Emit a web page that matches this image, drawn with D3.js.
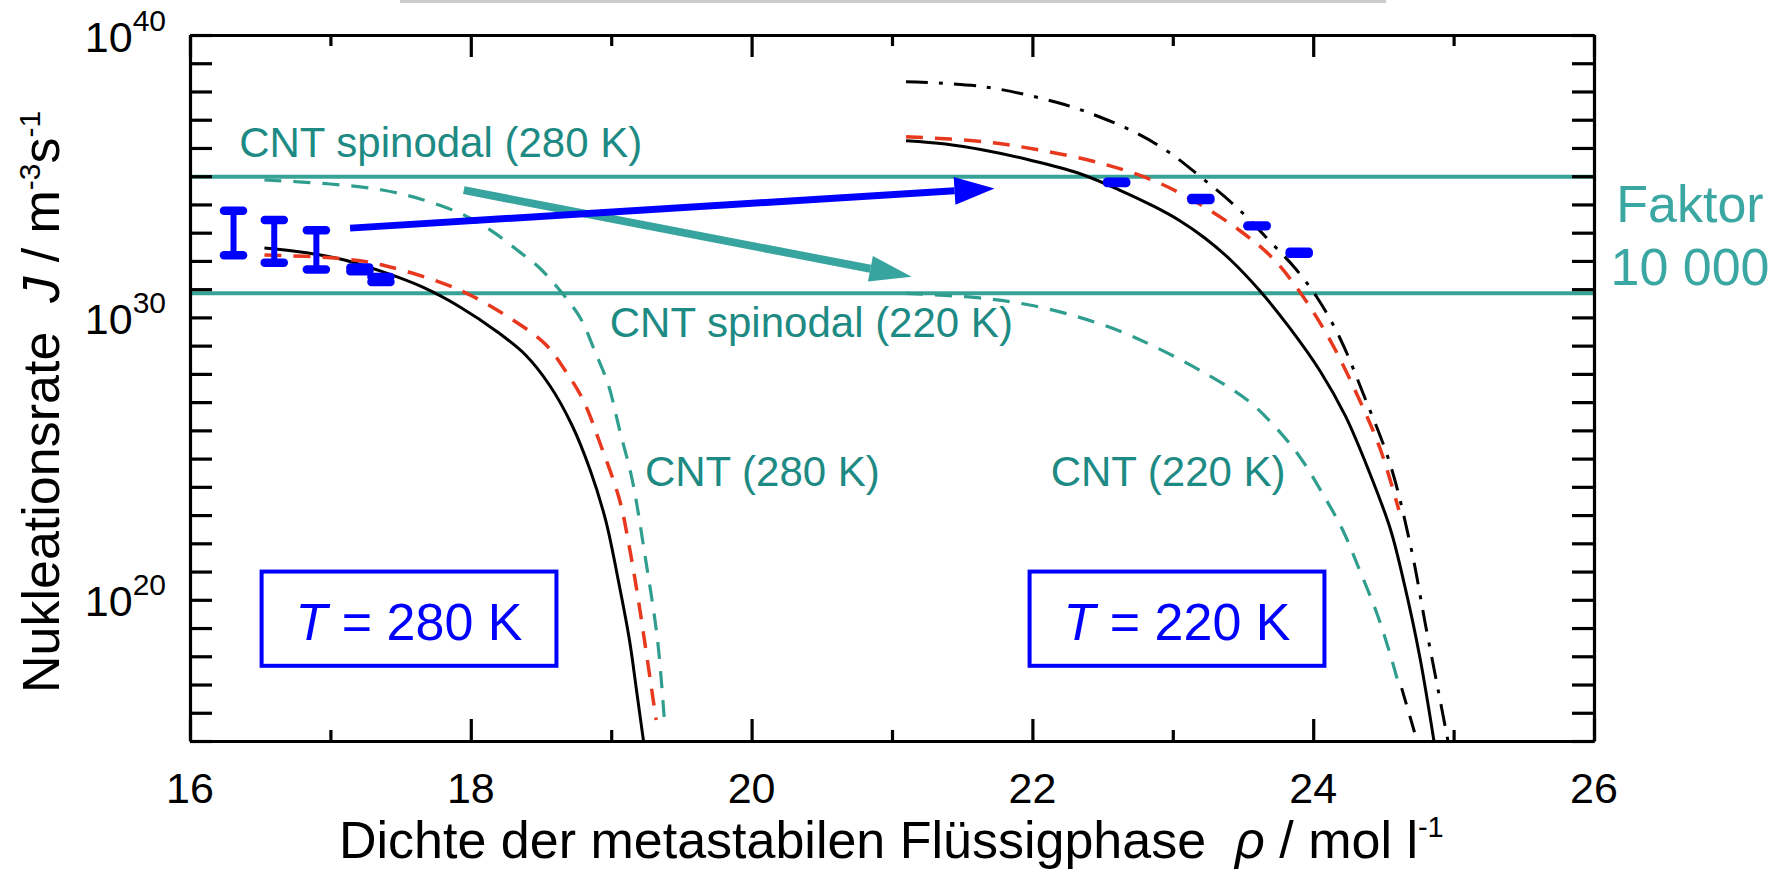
<!DOCTYPE html>
<html>
<head>
<meta charset="utf-8">
<script src="https://cdn.jsdelivr.net/npm/d3@7"></script>
<style>
  body { margin: 0; background: #fff; }
  svg { display: block; font-family: "Liberation Sans", Arial, sans-serif; }
</style>
</head>
<body>
<svg id="chart" width="1779" height="872"></svg>
<script>
// density rho (mol/l) vs nucleation rate J (m^-3 s^-1)

const xTicksMajor = [16, 18, 20, 22, 24, 26];
const xTicksMinor = [17, 19, 21, 23, 25];
const yTickLabels = [1e20, 1e30, 1e40];

// CNT spinodal levels (horizontal lines)
const spinodal280 = 9.5e34;
const spinodal220 = 7.1e30;

// T = 280 K curves
const solid280 = [[16.53, 2.87e32], [16.83, 1.95e32], [17.10, 1.08e32], [17.37, 4.15e31],
  [17.65, 1.22e31], [17.92, 2.39e30], [18.19, 3.04e29], [18.39, 4.67e28], [18.56, 4.04e27],
  [18.72, 1.55e26], [18.85, 3.94e24], [18.96, 6.70e22], [19.05, 5.02e20], [19.13, 3.77e18],
  [19.18, 6.4e16], [19.23, 1.0e15]];
const redDash280 = [[16.53, 1.62e32], [17.05, 1.24e32], [17.37, 7.18e31], [17.92, 9.33e30],
  [18.30, 8.09e29], [18.53, 1.14e29], [18.67, 1.37e28], [18.80, 1.19e27], [18.92, 3.56e25],
  [19.06, 3.42e23], [19.12, 1.31e22], [19.19, 1.26e20], [19.32, 5.55e15]];
const cnt280 = [[16.53, 7.33e34], [17.00, 5.30e34], [17.37, 3.24e34], [17.64, 1.56e34],
  [17.92, 4.98e33], [18.14, 1.24e33], [18.33, 2.44e32], [18.49, 5.61e31], [18.65, 7.31e30],
  [18.78, 9.53e29], [18.88, 7.01e28], [18.98, 4.04e27], [19.06, 1.03e26], [19.15, 1.75e24],
  [19.24, 3.86e21], [19.33, 3.77e18], [19.38, 4.34e15]];

// T = 220 K curves
const solid220 = [[21.10, 1.81e36], [21.38, 1.38e36], [21.65, 8.47e35], [21.98, 3.75e35],
  [22.33, 1.27e35], [22.62, 3.24e34], [22.87, 8.32e33], [23.05, 2.65e33], [23.23, 6.38e32],
  [23.41, 1.10e32], [23.62, 8.75e30], [23.83, 4.43e29], [24.05, 1.24e28], [24.23, 3.17e26],
  [24.40, 3.30e24], [24.55, 3.16e22], [24.65, 3.43e20], [24.76, 9.06e17], [24.86, 1.0e15]];
const redDash220 = [[21.10, 2.51e36], [21.65, 1.67e36], [22.05, 8.47e35], [22.48, 2.93e35],
  [22.87, 6.76e34], [23.19, 1.04e34], [23.50, 9.75e32], [23.71, 1.27e32], [23.90, 8.61e30],
  [24.12, 1.58e29], [24.33, 1.19e27], [24.48, 2.02e25], [24.61, 1.51e23]];
const dashDot220 = [[21.10, 2.22e38], [21.65, 1.48e38], [22.19, 3.91e37], [22.48, 1.25e37],
  [22.74, 3.39e36], [22.97, 7.19e35], [23.19, 1.02e35], [23.46, 7.48e33], [23.71, 3.97e32],
  [23.87, 5.61e31], [24.03, 4.86e30], [24.19, 1.87e29], [24.36, 1.79e27], [24.55, 5.93e24],
  [24.70, 5.80e21], [24.80, 1.28e19], [24.89, 6.4e16], [24.96, 1.0e15]];
const cnt220 = [[21.10, 7.13e30], [21.65, 4.74e30], [21.98, 2.75e30], [22.32, 1.06e30],
  [22.62, 3.30e29], [22.87, 9.18e28], [23.19, 1.37e28], [23.53, 1.19e27], [23.73, 1.32e26],
  [23.91, 1.05e25], [24.06, 6.56e23], [24.21, 2.97e22], [24.33, 1.14e21], [24.45, 3.70e19],
  [24.55, 1.11e18], [24.60, 1.45e17]];
const tail220 = [[24.63, 7.5e16], [24.74, 1.0e15]];

// simulation results with error bars
const bars280 = [
  { rho: 16.31, lo: 1.6e32, hi: 6.0e33 },
  { rho: 16.60, lo: 8.7e31, hi: 2.8e33 },
  { rho: 16.90, lo: 5.0e31, hi: 1.23e33 },
  { rho: 17.21, lo: 4.3e31, hi: 5.9e31 },
  { rho: 17.36, lo: 1.8e31, hi: 2.7e31 }
];
const bars220 = [
  { rho: 22.60, lo: 5.8e34, hi: 6.3e34 },
  { rho: 23.20, lo: 1.45e34, hi: 1.7e34 },
  { rho: 23.60, lo: 1.7e33, hi: 1.8e33 },
  { rho: 23.90, lo: 1.8e32, hi: 2.1e32 }
];

// arrows [from, to] in data units
const arrowBlue = [[17.14, 1.45e33], [21.73, 3.7e34]];
const arrowTeal = [[17.95, 3.2e34], [21.14, 2.75e31]];

const notes = [
  { text: "CNT spinodal (280 K)", rho: 16.35, J: 4.8e35 },
  { text: "CNT spinodal (220 K)", rho: 18.99, J: 2.0e29 },
  { text: "CNT (280 K)", rho: 19.24, J: 1.07e24 },
  { text: "CNT (220 K)", rho: 22.13, J: 1.07e24 }
];
const boxes = [
  { label: "280 K", rho0: 16.51, rho1: 18.61 },
  { label: "220 K", rho0: 21.98, rho1: 24.08 }
];
const boxTop = 1.0e21, boxBottom = 4.6e17, boxBaseline = 3.8e18;

const blue = "#0000ff", red = "#e8391f", tealLine = "#37a396", tealCurve = "#2f9e8f",
      tealText = "#1d8a83", tealLight = "#3ba7a2";

const M = { left: 190, right: 1594, top: 35, bottom: 741 };
const svg = d3.select("#chart");

const x = d3.scaleLinear().domain([16, 26]).range([M.left, M.right]);
const y = d3.scaleLog().domain([1e15, 1e40]).range([M.bottom, M.top]);

// gray strip at top of the slide
svg.append("rect").attr("x", 400).attr("y", 0).attr("width", 986).attr("height", 3)
  .attr("fill", "#cccccc");

const plot = svg.append("g");

// spinodal lines
plot.selectAll("line.spin")
  .data([spinodal280, spinodal220])
  .join("line")
    .attr("x1", x(16)).attr("x2", x(26))
    .attr("y1", d => y(d)).attr("y2", d => y(d))
    .attr("stroke", tealLine).attr("stroke-width", 4);

const line = d3.line()
  .x(d => x(d[0]))
  .y(d => y(d[1]))
  .curve(d3.curveCatmullRom.alpha(0.5));

const series = [
  { data: cnt280, color: tealCurve, dash: "17,12", w: 3.2 },
  { data: cnt220, color: tealCurve, dash: "17,12", w: 3.2 },
  { data: tail220, color: "#000", dash: "17,12", w: 3 },
  { data: solid280, color: "#000", dash: null, w: 3 },
  { data: solid220, color: "#000", dash: null, w: 3 },
  { data: dashDot220, color: "#000", dash: "22,11,4,11", w: 3 },
  { data: redDash280, color: red, dash: "17,12", w: 3.5 },
  { data: redDash220, color: red, dash: "17,12", w: 3.5 }
];

plot.selectAll("path.curve")
  .data(series)
  .join("path")
    .attr("class", "curve")
    .attr("d", d => line(d.data))
    .attr("fill", "none")
    .attr("stroke", d => d.color)
    .attr("stroke-width", d => d.w)
    .attr("stroke-dasharray", d => d.dash);

// error bars
function drawBars(data) {
  const g = plot.append("g").attr("stroke", blue).attr("stroke-linecap", "round");
  g.selectAll("line.stem").data(data).join("line")
    .attr("x1", d => x(d.rho)).attr("x2", d => x(d.rho))
    .attr("y1", d => y(d.hi)).attr("y2", d => y(d.lo))
    .attr("stroke-width", 6);
  const caps = data.flatMap(d => [{ rho: d.rho, J: d.hi }, { rho: d.rho, J: d.lo }]);
  g.selectAll("line.cap").data(caps).join("line")
    .attr("x1", d => x(d.rho) - 9.5).attr("x2", d => x(d.rho) + 9.5)
    .attr("y1", d => y(d.J)).attr("y2", d => y(d.J))
    .attr("stroke-width", 8.5);
}
drawBars(bars280);
drawBars(bars220);

// arrows
function drawArrow(a, color, width, headLen, headHalf) {
  const p0 = [x(a[0][0]), y(a[0][1])];
  const p1 = [x(a[1][0]), y(a[1][1])];
  const dx = p1[0] - p0[0], dy = p1[1] - p0[1];
  const len = Math.hypot(dx, dy);
  const ux = dx / len, uy = dy / len;
  const bx = p1[0] - ux * headLen, by = p1[1] - uy * headLen;
  plot.append("line")
    .attr("x1", p0[0]).attr("y1", p0[1]).attr("x2", bx).attr("y2", by)
    .attr("stroke", color).attr("stroke-width", width);
  plot.append("path")
    .attr("d", `M${p1[0]},${p1[1]}L${bx - uy * headHalf},${by + ux * headHalf}L${bx + uy * headHalf},${by - ux * headHalf}Z`)
    .attr("fill", color);
}
drawArrow(arrowTeal, "#38a4a0", 8, 42, 13);
drawArrow(arrowBlue, blue, 7, 40, 14);

// annotations
plot.selectAll("text.note")
  .data(notes)
  .join("text")
    .attr("x", d => x(d.rho)).attr("y", d => y(d.J))
    .attr("font-size", 42).attr("fill", tealText)
    .text(d => d.text);

boxes.forEach(b => {
  plot.append("rect")
    .attr("x", x(b.rho0)).attr("y", y(boxTop))
    .attr("width", x(b.rho1) - x(b.rho0)).attr("height", y(boxBottom) - y(boxTop))
    .attr("fill", "none").attr("stroke", blue).attr("stroke-width", 4);
  const t = plot.append("text")
    .attr("x", (x(b.rho0) + x(b.rho1)) / 2).attr("y", y(boxBaseline))
    .attr("text-anchor", "middle").attr("font-size", 52).attr("fill", blue);
  t.append("tspan").attr("font-style", "italic").text("T");
  t.append("tspan").text(" = " + b.label);
});

// Faktor label right of the plot
svg.append("text").attr("x", 1690).attr("y", 222).attr("text-anchor", "middle")
  .attr("font-size", 52).attr("fill", tealLight).text("Faktor");
svg.append("text").attr("x", 1690).attr("y", 285).attr("text-anchor", "middle")
  .attr("font-size", 52).attr("fill", tealLight).text("10 000");

// axes: ticks point inwards on all four sides
const decades = d3.range(15, 41).map(e => Math.pow(10, e));
function styleAxis(g) {
  g.selectAll(".domain").attr("stroke-width", 3.2);
  g.selectAll(".tick line").attr("stroke-width", 3.2);
  g.selectAll(".tick text").remove();
}
svg.append("g").attr("transform", `translate(0,${M.bottom})`)
  .call(d3.axisBottom(x).tickValues(xTicksMajor).tickSize(-22).tickSizeOuter(0))
  .call(styleAxis);
svg.append("g").attr("transform", `translate(0,${M.bottom})`)
  .call(d3.axisBottom(x).tickValues(xTicksMinor).tickSize(-11).tickSizeOuter(0))
  .call(styleAxis);
svg.append("g").attr("transform", `translate(0,${M.top})`)
  .call(d3.axisTop(x).tickValues(xTicksMajor).tickSize(-22).tickSizeOuter(0))
  .call(styleAxis);
svg.append("g").attr("transform", `translate(0,${M.top})`)
  .call(d3.axisTop(x).tickValues(xTicksMinor).tickSize(-11).tickSizeOuter(0))
  .call(styleAxis);
svg.append("g").attr("transform", `translate(${M.left},0)`)
  .call(d3.axisLeft(y).tickValues(decades).tickSize(-22).tickSizeOuter(0))
  .call(styleAxis);
svg.append("g").attr("transform", `translate(${M.right},0)`)
  .call(d3.axisRight(y).tickValues(decades).tickSize(-22).tickSizeOuter(0))
  .call(styleAxis);

// x tick labels
svg.selectAll("text.xlab")
  .data(xTicksMajor)
  .join("text")
    .attr("x", d => x(d)).attr("y", 803)
    .attr("text-anchor", "middle").attr("font-size", 43)
    .text(d => d);

// y tick labels as 10^n
yTickLabels.forEach(v => {
  const t = svg.append("text")
    .attr("x", 166).attr("y", y(v) + 16.5)
    .attr("text-anchor", "end").attr("font-size", 43);
  t.append("tspan").text("10");
  t.append("tspan").attr("font-size", 30).attr("dy", -21).text(Math.round(Math.log10(v)));
});

// axis titles
const xt = svg.append("text")
  .attr("x", 339).attr("y", 858).attr("font-size", 52)
  .attr("xml:space", "preserve").style("white-space", "pre");
xt.append("tspan").text("Dichte der metastabilen Flüssigphase  ");
xt.append("tspan").attr("font-style", "italic").text("ρ");
xt.append("tspan").text(" / mol l");
xt.append("tspan").attr("font-size", 29).attr("dy", -21).text("-1");

const yt = svg.append("text")
  .attr("transform", "translate(59,693) rotate(-90)").attr("font-size", 52)
  .attr("xml:space", "preserve").style("white-space", "pre");
yt.append("tspan").text("Nukleationsrate  ");
yt.append("tspan").attr("font-style", "italic").text("J");
yt.append("tspan").text(" / m");
yt.append("tspan").attr("font-size", 30).attr("dy", -19).text("-3");
yt.append("tspan").attr("dy", 19).text("s");
yt.append("tspan").attr("font-size", 30).attr("dy", -19).text("-1");
</script>
</body>
</html>
